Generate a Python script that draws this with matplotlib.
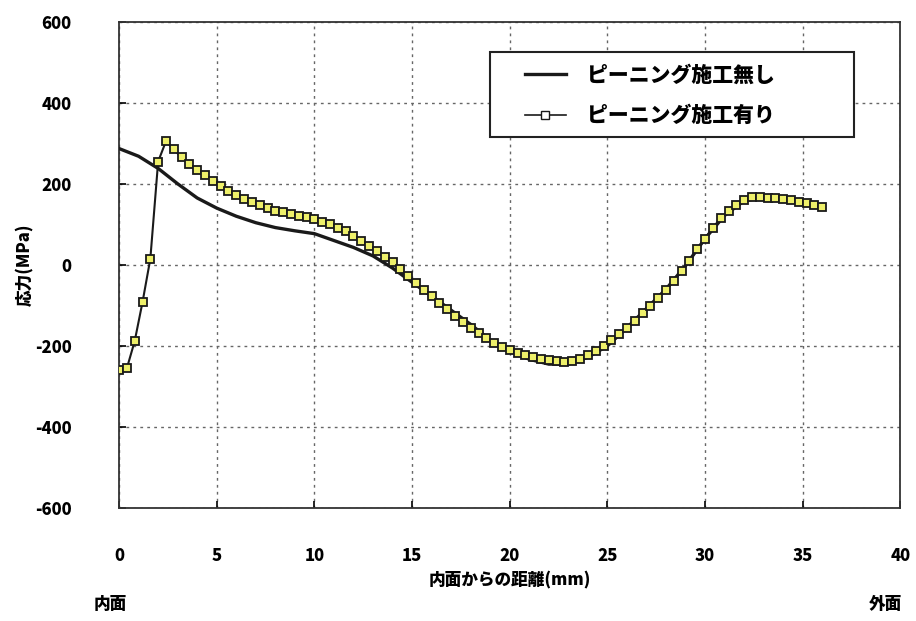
import numpy as np
import matplotlib
matplotlib.use("Agg")
from matplotlib import pyplot as plt
from matplotlib.lines import Line2D
from matplotlib.patches import Rectangle

plt.rcParams['font.family'] = ['Noto Sans CJK JP', 'DejaVu Sans']
plt.rcParams['font.weight'] = 'heavy'
plt.rcParams['axes.unicode_minus'] = False

# ピーニング施工有り (0.4 mm pitch)
x_peen = np.round(np.arange(0, 36.01, 0.4), 1)
y_peen = [-260, -255, -188, -92, 15, 255, 305, 285, 265, 250,
          235, 222, 208, 195, 183, 172, 163, 155, 147, 140,
          134, 130, 126, 121, 117, 112, 106, 100, 92, 83,
          72, 60, 47, 33, 20, 6, -10, -28, -45, -62,
          -78, -94, -110, -126, -142, -156, -168, -180, -192, -202,
          -210, -217, -223, -228, -232, -235, -238, -240, -238, -232,
          -222, -212, -200, -185, -170, -155, -138, -120, -102, -82,
          -62, -40, -15, 10, 38, 65, 92, 115, 132, 148,
          160, 168, 168, 166, 164, 162, 160, 156, 152, 147,
          142]

# ピーニング施工無し (1 mm pitch)
x_none = list(range(0, 37))
y_none = [287, 268, 238, 200, 165, 140, 120, 104, 92, 84,
          77, 60, 43, 22, -8, -43, -77, -112, -147, -186,
          -213, -233, -245, -245, -228, -200, -155, -108, -60, -2,
          65, 122, 158, 166, 162, 150, 142]

xticks = [0, 5, 10, 15, 20, 25, 30, 35, 40]
yticks = [-600, -400, -200, 0, 200, 400, 600]

fig = plt.figure(figsize=(9.16, 6.21), dpi=100)
ax = fig.add_axes([0.130, 0.182, 0.853, 0.783])

ax.plot(x_none, y_none, color='#1a1a1a', lw=2.4, zorder=3)
ax.plot(x_peen, y_peen, color='#1a1a1a', lw=1.5, marker='s', ms=5.2,
        markerfacecolor='#eef06a', markeredgecolor='#1a1a1a', markeredgewidth=1.3, zorder=4)

ax.set_xlim(0, 40)
ax.set_ylim(-600, 600)
ax.set_xticks(xticks)
ax.set_yticks(yticks)
ax.tick_params(axis='y', direction='in', length=5, width=1.2, labelsize=12, pad=34)
ax.tick_params(axis='x', direction='in', length=5, width=1.2, labelsize=12, pad=28)
for lab in ax.get_xticklabels() + ax.get_yticklabels():
    lab.set_fontweight('heavy')
ax.grid(True, color='#666666', linestyle=(0, (2, 3)), linewidth=1.0)
for sp in ax.spines.values():
    sp.set_linewidth(1.3)
    sp.set_color('#333333')

ax.set_xlabel('内面からの距離(mm)', fontsize=12, fontweight='heavy', labelpad=4)
ax.set_ylabel('応力(MPa)', fontsize=12, fontweight='heavy', labelpad=1)

fig.text(0.120, 0.020, '内面', fontsize=12, fontweight='heavy', ha='center')
fig.text(0.967, 0.020, '外面', fontsize=12, fontweight='heavy', ha='center')

# legend frame drawn separately so the box can be wider than its contents
ax.add_patch(Rectangle((0.475, 0.763), 0.465, 0.175, transform=ax.transAxes,
                       facecolor='white', edgecolor='#222222', lw=1.5, zorder=5))
handles = [Line2D([], [], color='#1a1a1a', lw=2.4),
           Line2D([], [], color='#1a1a1a', lw=1.2, marker='s', ms=5.5,
                  markerfacecolor='white', markeredgecolor='#1a1a1a')]
leg = ax.legend(handles, ['ピーニング施工無し', 'ピーニング施工有り'],
                loc='upper left', bbox_to_anchor=(0.519, 0.911),
                fontsize=15, handlelength=2.0, handletextpad=1.0,
                borderpad=0, borderaxespad=0, labelspacing=0.95,
                frameon=False)
leg.set_zorder(6)
for t in leg.get_texts():
    t.set_fontweight('heavy')

fig.savefig('out.png', dpi=100)
